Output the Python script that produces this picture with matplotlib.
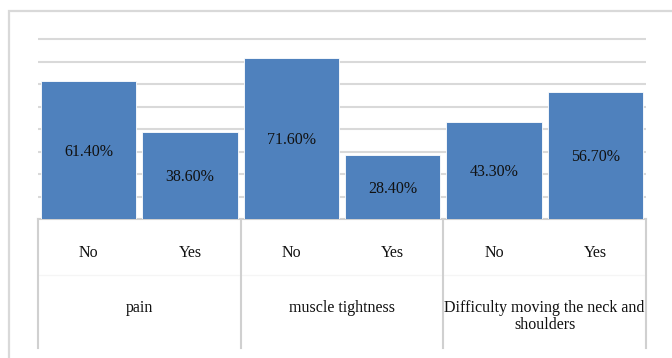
import matplotlib

matplotlib.use("Agg")
import matplotlib.pyplot as plt
from matplotlib.patches import Rectangle

# data
groups = ["pain", "muscle tightness", "Difficulty moving the neck and\nshoulders"]
answers = ["No", "Yes"]
values = [61.4, 38.6, 71.6, 28.4, 43.3, 56.7]

BLUE = "#4F81BD"
GRID = "#D9D9D9"
W, H = 672, 358
BASE_PX = 219.3      # baseline, in pixels from top
PX_PER_UNIT = 2.25   # pixels per percent
TOP_PX = 20

plt.rcParams["font.family"] = ["Liberation Serif", "DejaVu Serif"]

fig = plt.figure(figsize=(W / 100, H / 100), dpi=100)
fig.patch.set_facecolor("white")

# chart-area frame (right and bottom edges fall outside the picture)
fig.patches.append(Rectangle((9 / W, -0.1), 1.2, 1 - 11 / H + 0.1,
                             transform=fig.transFigure, fill=False,
                             edgecolor=GRID, linewidth=1.6))

left, right = 38, 646
ax = fig.add_axes([left / W, 1 - BASE_PX / H, (right - left) / W,
                   (BASE_PX - TOP_PX) / H])
ymax = (BASE_PX - TOP_PX) / PX_PER_UNIT
ax.set_ylim(0, ymax)
n = len(values)
ax.set_xlim(-0.5, n - 0.5)
for s in ax.spines.values():
    s.set_visible(False)
ax.set_xticks([])
ax.set_yticks([])


def ypx(py):
    """pixel row -> data y"""
    return (BASE_PX - py) / PX_PER_UNIT


for g in range(10, 90, 10):
    ax.axhline(g, color=GRID, linewidth=1.5, zorder=0)

xs = list(range(n))
ax.bar(xs, values, width=0.94, color=BLUE, edgecolor="white",
       linewidth=0.6, zorder=2)
for x, v in zip(xs, values):
    ax.text(x, v / 2 - 0.6, f"{v:.2f}%", ha="center", va="center",
            fontsize=11.5, color="#111111", zorder=3)

# multi-level category axis
ax.plot([-0.5, n - 0.5], [0, 0], color="#D0D0D0", linewidth=1.5,
        clip_on=False, zorder=1)
ax.plot([-0.5, n - 0.5], [ypx(275), ypx(275)], color="#F5F5F5",
        linewidth=1.0, clip_on=False)
for sx in (-0.5, 1.5, 3.5, 5.5):
    ax.plot([sx, sx], [0, ypx(348)], color="#D0D0D0", linewidth=1.5,
            clip_on=False)

for i, x in enumerate(xs):
    ax.text(x, ypx(253), answers[i % 2], ha="center", va="center",
            fontsize=11.5, color="#111111")
for gi, name in enumerate(groups):
    ax.text(2 * gi + 0.5, ypx(300), name, ha="center", va="top",
            fontsize=11.5, linespacing=1.05, color="#111111")

fig.savefig("out.png", dpi=100)
